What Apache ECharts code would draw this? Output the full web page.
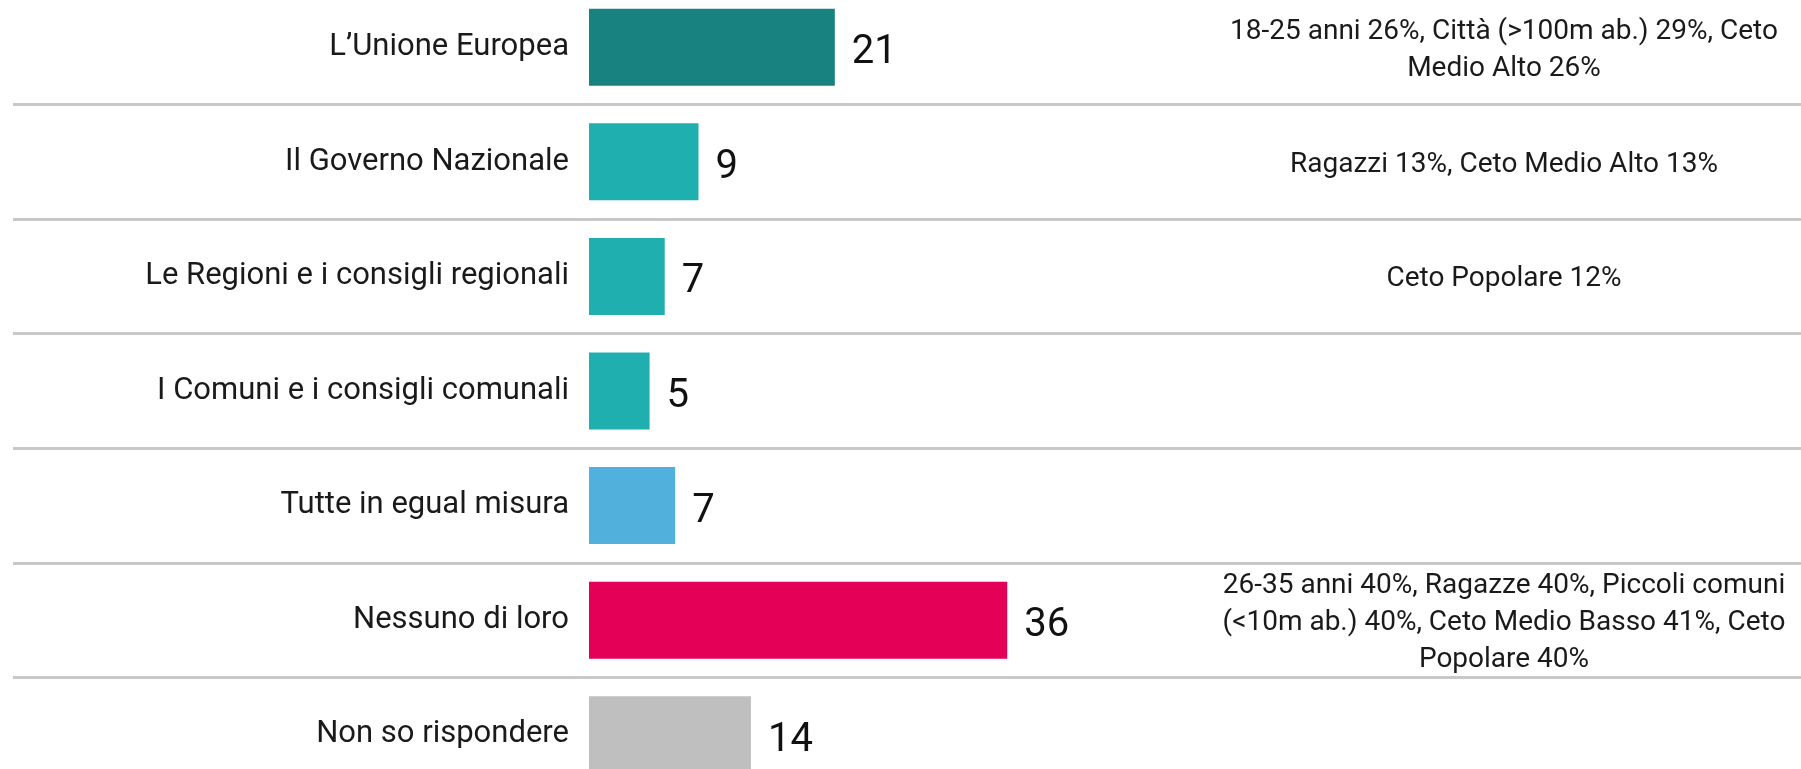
<!DOCTYPE html>
<html>
<head>
<meta charset="utf-8">
<script src="https://cdn.jsdelivr.net/npm/echarts@6/dist/echarts.min.js"></script>
<style>
  html, body { margin: 0; padding: 0; background: #fff; }
  #chart { width: 1801px; height: 769px; }
</style>
</head>
<body>
<div id="chart"></div>
<script>
// categorie (dall'alto verso il basso)
var categories = [
  'L\u2019Unione Europea',
  'Il Governo Nazionale',
  'Le Regioni e i consigli regionali',
  'I Comuni e i consigli comunali',
  'Tutte in egual misura',
  'Nessuno di loro',
  'Non so rispondere'
];

var values = [21.1, 9.4, 6.5, 5.2, 7.4, 35.9, 13.9];

// note a destra
var notes = [
  '18-25 anni 26%, Citt\u00e0 (>100m ab.) 29%, Ceto\nMedio Alto 26%',
  'Ragazzi 13%, Ceto Medio Alto 13%',
  'Ceto Popolare 12%',
  '',
  '',
  '26-35 anni 40%, Ragazze 40%, Piccoli comuni\n(<10m ab.) 40%, Ceto Medio Basso 41%, Ceto\nPopolare 40%',
  ''
];

var barColors = ['#178280', '#1eafae', '#1eafae', '#1eafae', '#52b0dc', '#e40056', '#bfbfbf'];

var FONT = 'Roboto, "Noto Sans", sans-serif';
var TOP = -10, HEIGHT = 802;

var myChart = echarts.init(document.getElementById('chart'));

var noteData = [];
notes.forEach(function (n, i) {
  if (n) noteData.push({ value: [0.5, i], note: n });
});

var option = {
  animation: false,
  backgroundColor: '#fff',
  grid: [
    // barre
    { left: 589, right: 47, top: TOP, height: HEIGHT, outerBoundsMode: 'none' },
    // linee orizzontali
    { left: 13, right: 0, top: TOP, height: HEIGHT, outerBoundsMode: 'none' },
    // note
    { left: 1215, right: 8, top: TOP, height: HEIGHT, outerBoundsMode: 'none' }
  ],
  xAxis: [
    { gridIndex: 0, type: 'value', min: 0, max: 100, show: false },
    { gridIndex: 1, type: 'value', min: 0, max: 1, show: false },
    { gridIndex: 2, type: 'value', min: 0, max: 1, show: false }
  ],
  yAxis: [
    {
      gridIndex: 0, type: 'category', data: categories, inverse: true,
      axisLine: { show: false }, axisTick: { show: false }, splitLine: { show: false },
      axisLabel: { interval: 0, margin: 20, fontSize: 31, color: '#1a1a1a', fontFamily: FONT }
    },
    {
      gridIndex: 1, type: 'category', data: categories, inverse: true,
      axisLine: { show: false }, axisTick: { show: false }, axisLabel: { show: false },
      splitLine: { show: true, interval: 0, lineStyle: { color: '#c8c8c8', width: 3 } }
    },
    {
      gridIndex: 2, type: 'category', data: categories, inverse: true, show: false
    }
  ],
  series: [
    {
      type: 'bar',
      xAxisIndex: 0, yAxisIndex: 0,
      barWidth: 77,
      data: values.map(function (v, i) {
        return { value: v, itemStyle: { color: barColors[i] } };
      }),
      label: {
        show: true,
        position: 'right',
        distance: 17,
        offset: [0, 6],
        fontSize: 40,
        color: '#111',
        fontFamily: FONT,
        formatter: function (p) { return Math.round(p.value); }
      }
    },
    {
      type: 'scatter',
      xAxisIndex: 2, yAxisIndex: 2,
      symbolSize: 0,
      itemStyle: { opacity: 1 },
      data: noteData,
      label: {
        show: true,
        position: 'inside',
        align: 'center',
        verticalAlign: 'middle',
        offset: [0, 3],
        fontSize: 28,
        lineHeight: 37,
        color: '#1a1a1a',
        fontFamily: FONT,
        formatter: function (p) { return p.data.note; }
      }
    }
  ]
};

myChart.setOption(option);
</script>
</body>
</html>
